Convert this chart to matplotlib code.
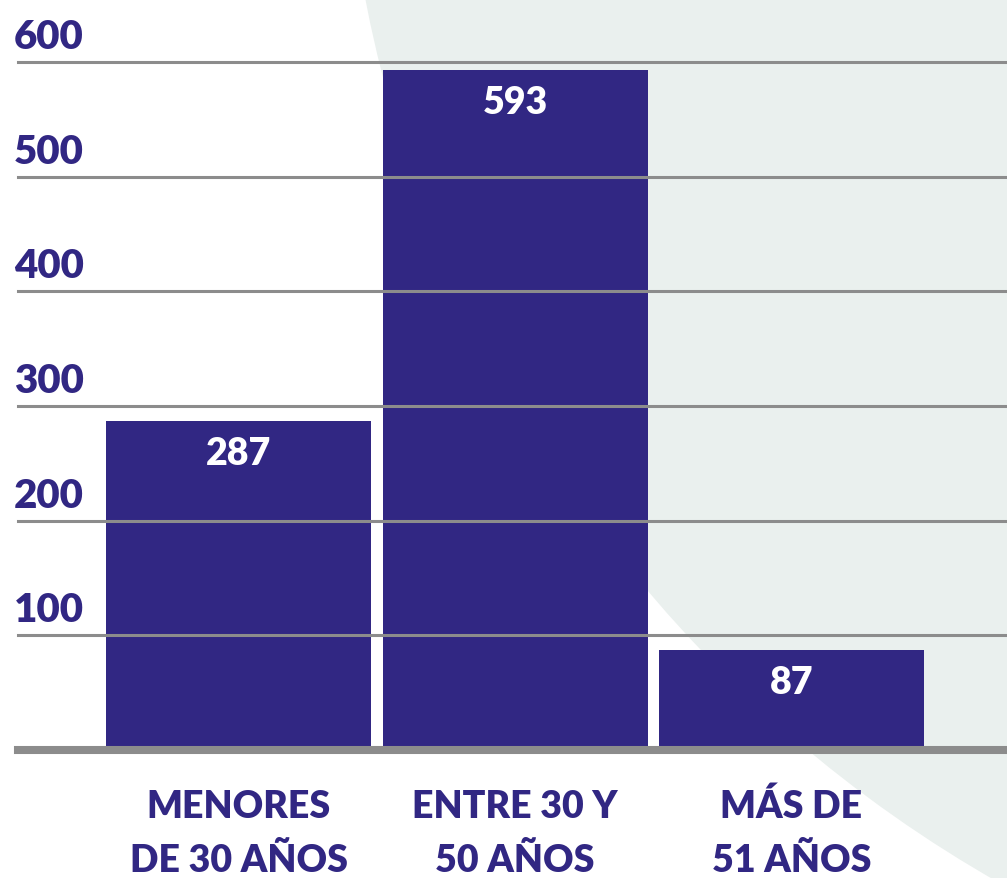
import matplotlib
matplotlib.use("Agg")
import matplotlib.pyplot as plt
import matplotlib.transforms as mtransforms
from matplotlib.patches import Circle
from matplotlib import font_manager

categories = ["MENORES\nDE 30 AÑOS", "ENTRE 30 Y\n50 AÑOS", "MÁS DE\n51 AÑOS"]
values = [287, 593, 87]
yticks = [100, 200, 300, 400, 500, 600]

PURPLE = "#312783"
GRID = "#8C8C8C"
BG_SHAPE = "#EAF0EE"
FONT = ["Lato", "DejaVu Sans"]
WEIGHT = "heavy"

W, H = 1007, 879
fig = plt.figure(figsize=(W / 100, H / 100), dpi=100)
fig.patch.set_facecolor("white")

# background decorative circle
bg = fig.add_axes([0, 0, 1, 1], zorder=0)
bg.set_xlim(0, W)
bg.set_ylim(H, 0)
bg.axis("off")
bg.add_patch(Circle((1640, -245), 1298, color=BG_SHAPE, lw=0))

# main axes: y=0 at pixel 751, 600 at pixel 63
px_per_unit = (751 - 63) / 600
ax_left = 17.5 / W
ax_bottom = (H - 751) / H
ax_top_px = 20
ax = fig.add_axes([ax_left, ax_bottom, 1 - ax_left, (751 - ax_top_px) / H], zorder=1)
ax.patch.set_alpha(0)
ax.set_ylim(0, (751 - ax_top_px) / px_per_unit)
step = 276.5
x0 = (238.5 - 17.5) / step
ax.set_xlim(-x0, -x0 + (W - 17.5) / step)
for s in ax.spines.values():
    s.set_visible(False)
ax.set_xticks([])
ax.set_yticks([])

x = list(range(len(values)))
ax.bar(x, values, width=265 / step, color=PURPLE, zorder=2)

for v in yticks:
    ax.axhline(v, color=GRID, lw=2.2, zorder=3, clip_on=False)
ax.axhline(0, color=GRID, lw=5.8, zorder=3, clip_on=False)

ylab_tr = mtransforms.blended_transform_factory(fig.transFigure, ax.transData)
for v in yticks:
    ax.annotate(str(v), xy=(14 / W, v), xycoords=ylab_tr, xytext=(0, 10),
                textcoords="offset points", ha="left", va="baseline",
                fontsize=29, fontweight=WEIGHT, color=PURPLE, family=FONT,
                annotation_clip=False)

for xi, v in zip(x, values):
    ax.annotate(str(v), xy=(xi, v), xytext=(0, -23), textcoords="offset points",
                ha="center", va="center", fontsize=27, fontweight=WEIGHT,
                color="white", family=FONT, zorder=5)

xl_tr = mtransforms.blended_transform_factory(ax.transData, fig.transFigure)
for xi, cat in zip(x, categories):
    lines = cat.split("\n")
    for j, line in enumerate(lines):
        ypx = 818 + 54 * j
        ax.text(xi, 1 - ypx / H, line, transform=xl_tr, ha="center", va="baseline",
                fontsize=27, fontweight=WEIGHT, color=PURPLE, family=FONT,
                clip_on=False)

fig.savefig("out.png", dpi=100)
